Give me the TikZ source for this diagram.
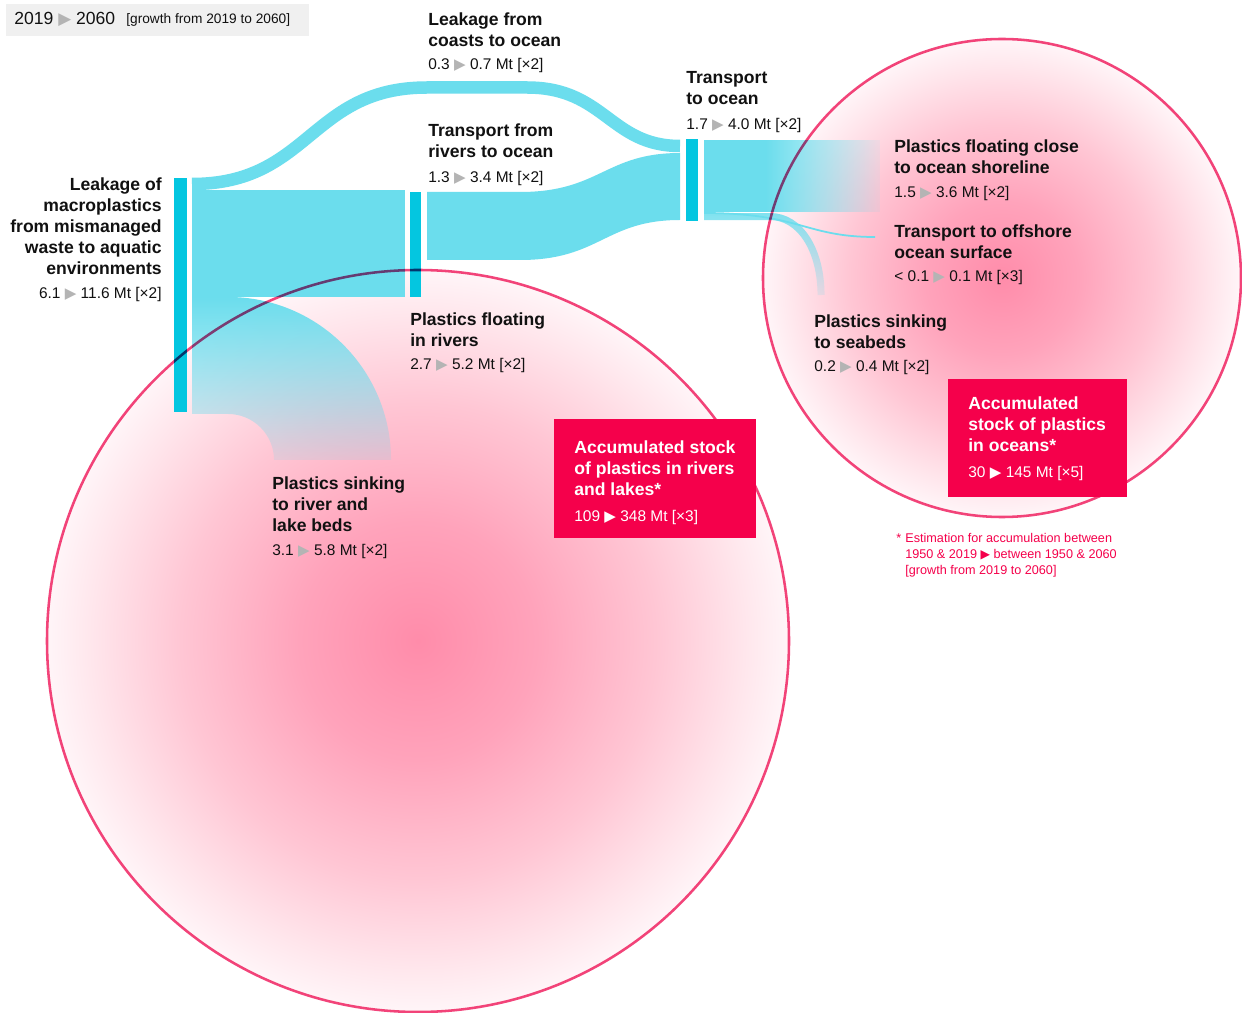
\documentclass[tikz,border=0pt]{standalone}
\usepackage{fontspec}
\setmainfont{Liberation Sans}
\newfontfamily\symf{DejaVu Sans}
\usetikzlibrary{fadings}
\definecolor{flowc}{HTML}{6BDDED}
\definecolor{barc}{HTML}{04C6E0}
\definecolor{redc}{HTML}{F5004B}
\definecolor{ringc}{HTML}{F2457B}
\definecolor{pinkc}{HTML}{FF8CAA}
\definecolor{pkA}{HTML}{FFA3BB}
\definecolor{pkB}{HTML}{FFC6D4}
\definecolor{pkC}{HTML}{FFE6EC}
\definecolor{pkD}{HTML}{FFF5F8}
\definecolor{trigray}{HTML}{B4B4B4}
\definecolor{legbg}{HTML}{F0F0F0}
\definecolor{txt}{HTML}{111111}
\pgfdeclareradialshading{pinkglow}{\pgfpoint{0bp}{0bp}}{color(0bp)=(pinkc); color(8bp)=(pkA); color(16bp)=(pkB); color(22bp)=(pkC); color(25bp)=(pkD); color(50bp)=(pkD)}
\tikzfading[name=fadedown, top color=transparent!0, bottom color=transparent!85]
\tikzfading[name=faderight, left color=transparent!0, right color=transparent!92]
\newcommand\ttlfont{\bfseries\fontsize{10pt}{11.9pt}\selectfont}
\newcommand\ttl[1]{\vtop{\ttlfont\halign{##\hfil\cr#1\crcr}}}
\newcommand\ttr[1]{\vtop{\ttlfont\halign{\hfil##\cr#1\crcr}}}
\newcommand\ftl[1]{\vtop{\halign{##\hfil\cr#1\crcr}}}
\newcommand\tri[1]{{\color{#1}\symf\fontsize{8.6pt}{8.6pt}\selectfont ▶}}
\newcommand\trib[1]{{\color{#1}\symf\fontsize{9.6pt}{9.6pt}\selectfont ▶}}
\newcommand\trif[1]{{\color{#1}\symf\fontsize{7pt}{7pt}\selectfont ▶}}
\tikzset{
  bar/.style={fill=barc, inner sep=0, draw=none},
  ring/.style={draw=ringc, line width=1.45pt},
  lab/.style={anchor=base west, inner sep=0, text=txt},
  labr/.style={anchor=base east, inner sep=0, text=txt},
  num/.style={anchor=base west, inner sep=0, text=txt, font=\fontsize{8.8pt}{10pt}\selectfont},
  numr/.style={num, anchor=base east},
  foot/.style={anchor=base west, inner sep=0, text=redc, font=\fontsize{7.2pt}{9.07pt}\selectfont},
  redbox/.style={fill=redc, inner sep=0, anchor=north west}
}
\begin{document}
\begin{tikzpicture}[x=0.02cm, y=-0.02cm]
\useasboundingbox (0,0) rectangle (1242,1013);
\fill[white] (0,0) rectangle (1242,1013);
% circles (glow)
\shade[shading=pinkglow] (418,641) circle (371);
\shade[shading=pinkglow] (1002,278) circle (239);
% legend
\node[fill=legbg, inner sep=0, minimum width=6.06cm, minimum height=0.64cm, anchor=north west] (legend) at (6,4) {};
\node[anchor=base west, inner sep=0, text=txt, font=\fontsize{10pt}{12pt}\selectfont] (legyears) at (14,25) {2019 \trib{trigray} 2060};
\node[anchor=base west, inner sep=0, text=txt, font=\fontsize{7.8pt}{9pt}\selectfont] (leggrowth) at (126,24) {[growth from 2019 to 2060]};
% flows
\coordinate (cA) at (192,184);
\coordinate (cB) at (427,87.5);
\coordinate (cC) at (527,87.5);
\coordinate (cD) at (680,146);
\draw[flowc, line width=0.25cm] (cA) .. controls (310,184) and (310,87.5) .. (cB) -- (cC) .. controls (605,87.5) and (610,146) .. (cD);
\fill[flowc] (192,190) rectangle (405,297);
\fill[flowc, path fading=fadedown] (192,297) -- (228,297) .. controls (318,297) and (391,370) .. (391,460) -- (274,460) .. controls (274,434.6) and (253.4,414) .. (228,414) -- (192,414) -- cycle;
\fill[flowc] (427,192) -- (520,192) .. controls (600,192) and (605,153) .. (680,153) -- (680,220) .. controls (605,220) and (600,260) .. (520,260) -- (427,260) -- cycle;
\fill[flowc] (704,140) rectangle (766,212);
\fill[flowc, path fading=faderight] (765.5,140) rectangle (880,212);
\draw[flowc, opacity=0.85, line width=0.14cm, path fading=fadedown] (704,216.5) -- (770,216.5) .. controls (800,216.5) and (821,250) .. (821,295);
\draw[flowc, line width=0.035cm] (704,213) .. controls (800,213) and (805,237) .. (875,237);
% bars
\node[bar, minimum width=0.26cm, minimum height=4.68cm] (leak) at (180.5,295) {};
\node[bar, minimum width=0.22cm, minimum height=2.1cm] (rivers) at (415.5,244.5) {};
\node[bar, minimum width=0.24cm, minimum height=1.64cm] (ocean) at (692,180) {};
% rings
\begin{scope}[blend mode=multiply]
\draw[ring] (418,641) circle (371);
\draw[ring] (1002,278) circle (239);
\end{scope}
% red boxes
\node[redbox, minimum width=4.04cm, minimum height=2.38cm] (stockR) at (554,419) {};
\node[redbox, minimum width=3.58cm, minimum height=2.36cm] (stockO) at (948,379) {};
% labels
\node[lab] (tcoast) at (428,26) {\ttl{Leakage from\cr coasts to ocean}};
\node[num] (ncoast) at (428,70) {0.3 \tri{trigray} 0.7 Mt [×2]};
\node[lab] (ttocean) at (686,84) {\ttl{Transport\cr to ocean}};
\node[num] (ntocean) at (686,130) {1.7 \tri{trigray} 4.0 Mt [×2]};
\node[lab] (trivocean) at (428,137) {\ttl{Transport from\cr rivers to ocean}};
\node[num] (nrivocean) at (428,183) {1.3 \tri{trigray} 3.4 Mt [×2]};
\node[labr] (tleak) at (162,191) {\ttr{Leakage of\cr macroplastics\cr from mismanaged\cr waste to aquatic\cr environments}};
\node[numr] (nleak) at (162,299) {6.1 \tri{trigray} 11.6 Mt [×2]};
\node[lab] (tfloat) at (410,326) {\ttl{Plastics floating\cr in rivers}};
\node[num] (nfloat) at (410,370) {2.7 \tri{trigray} 5.2 Mt [×2]};
\node[lab] (tsinkr) at (272,490) {\ttl{Plastics sinking\cr to river and\cr lake beds}};
\node[num] (nsinkr) at (272,556) {3.1 \tri{trigray} 5.8 Mt [×2]};
\node[lab] (tshore) at (894,153) {\ttl{Plastics floating close\cr to ocean shoreline}};
\node[num] (nshore) at (894,198) {1.5 \tri{trigray} 3.6 Mt [×2]};
\node[lab] (toff) at (894,238) {\ttl{Transport to offshore\cr ocean surface}};
\node[num] (noff) at (894,282) {< 0.1 \tri{trigray} 0.1 Mt [×3]};
\node[lab] (tsea) at (814,328) {\ttl{Plastics sinking\cr to seabeds}};
\node[num] (nsea) at (814,372) {0.2 \tri{trigray} 0.4 Mt [×2]};
\node[lab, text=white] (tstockR) at (574,454) {\ttl{Accumulated stock\cr of plastics in rivers\cr and lakes*}};
\node[num, text=white] (nstockR) at (574,522) {109 \tri{white} 348 Mt [×3]};
\node[lab, text=white] (tstockO) at (968,410) {\ttl{Accumulated\cr stock of plastics\cr in oceans*}};
\node[num, text=white] (nstockO) at (968,478) {30 \tri{white} 145 Mt [×5]};
% footnote
\node[foot] (fstar) at (896,543) {*};
\node[foot] (fnote) at (905,543) {\ftl{Estimation for accumulation between\cr 1950 \& 2019 \trif{redc} between 1950 \& 2060\cr [growth from 2019 to 2060]}};
\end{tikzpicture}
\end{document}
